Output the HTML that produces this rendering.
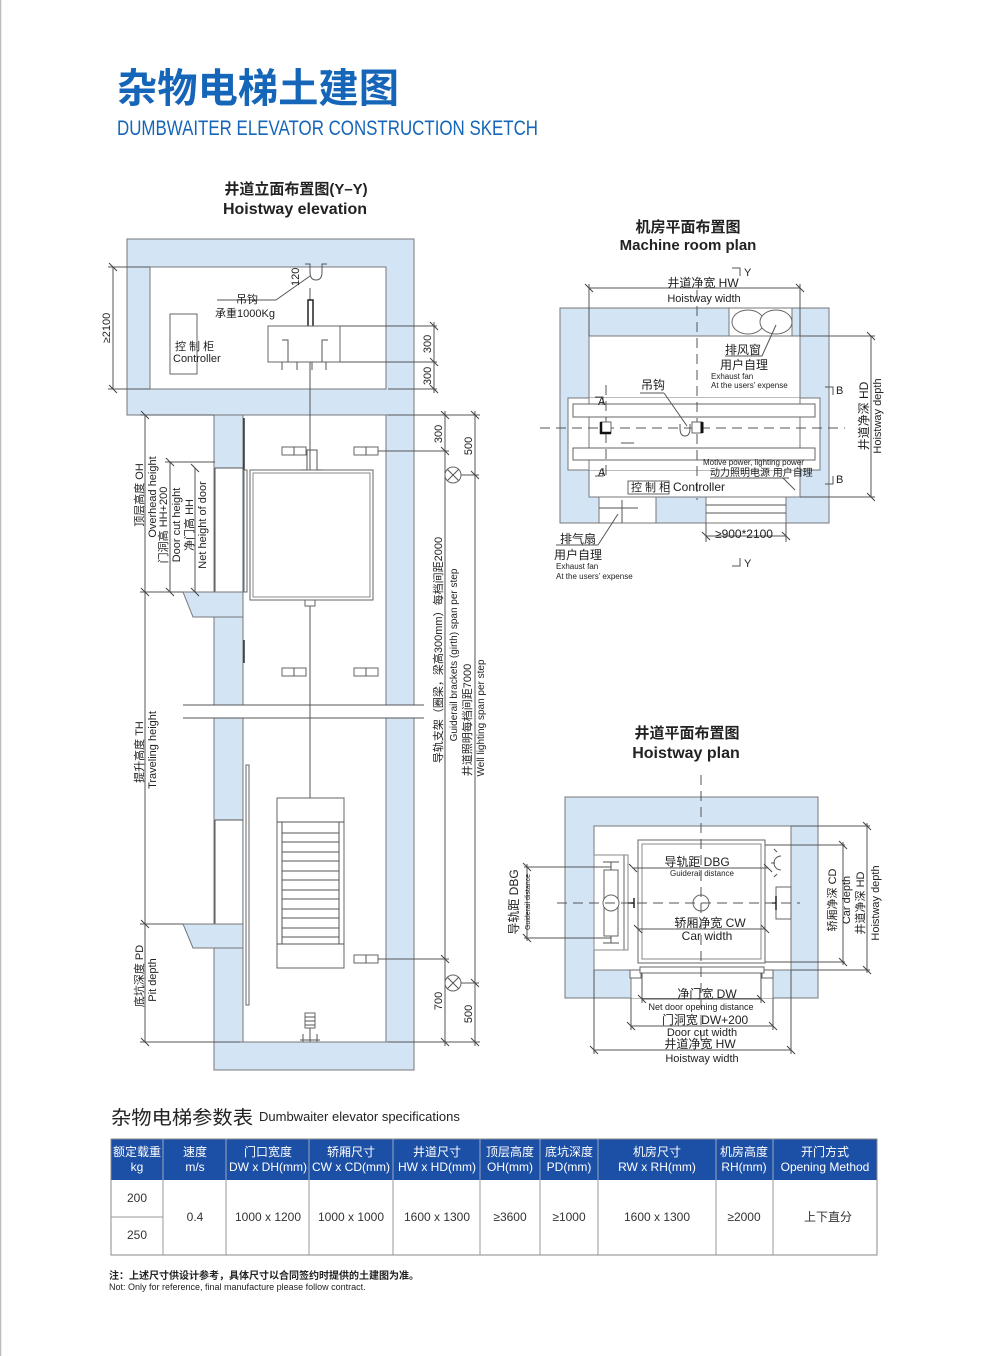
<!DOCTYPE html>
<html><head><meta charset="utf-8"><style>
html,body{margin:0;padding:0;background:#fff;}
svg{display:block;}
text{font-family:"Liberation Sans","Noto Sans CJK SC",sans-serif;fill:#222;}
.b{fill:#d3e4f5;stroke:#777;stroke-width:1;}
.l{stroke:#555;stroke-width:1;fill:none;}
.t{stroke:#444;stroke-width:1;}
.w{fill:#fff;stroke:#666;stroke-width:1;}
.d{stroke:#555;stroke-width:1;stroke-dasharray:10 6;fill:none;}
.th{fill:#fff;font-size:12px;}
.td{font-size:12px;fill:#333;}
</style></head><body>
<svg width="1000" height="1356" viewBox="0 0 1000 1356" xmlns="http://www.w3.org/2000/svg">
<rect x="0" y="0" width="1000" height="1356" fill="#fff"/>
<line x1="0.5" y1="0" x2="0.5" y2="1356" stroke="#bbb" stroke-width="1.5"/>

<text x="117" y="102" font-size="40" font-weight="bold" style="fill:#1565b8" textLength="282" lengthAdjust="spacingAndGlyphs">杂物电梯土建图</text>
<text x="117" y="135" font-size="21" style="fill:#1565b8" textLength="421" lengthAdjust="spacingAndGlyphs">DUMBWAITER ELEVATOR CONSTRUCTION SKETCH</text>

<text x="296" y="194" font-size="15" font-weight="bold" text-anchor="middle">井道立面布置图(Y–Y)</text>
<text x="295" y="214" font-size="16" font-weight="bold" text-anchor="middle">Hoistway elevation</text>

<rect x="127" y="239" width="287" height="176" class="b"/>
<rect x="150" y="267" width="236" height="122" fill="#fff" stroke="#777"/>
<rect x="214" y="415" width="29" height="655" class="b"/>
<rect x="386" y="415" width="28" height="655" class="b"/>
<rect x="214" y="1042" width="200" height="28" class="b"/>
<rect x="243" y="415" width="143" height="627" fill="#fff" stroke="#777"/>
<rect x="215" y="468" width="27" height="124" fill="#fff"/>
<line x1="215" y1="468" x2="243" y2="468" class="l"/>
<line x1="215" y1="468" x2="215" y2="592" class="l"/>
<rect x="215" y="820" width="27" height="104" fill="#fff"/>
<line x1="215" y1="820" x2="243" y2="820" class="l"/>
<line x1="215" y1="820" x2="215" y2="924" class="l"/>
<polygon points="183,592 243,592 243,617 215,617 193,617" class="b"/>
<polygon points="183,924 243,924 243,948 215,948 193,948" class="b"/>
<rect x="183" y="705" width="242" height="13" fill="#fff"/>
<line x1="183" y1="705" x2="424" y2="705" class="l"/>
<line x1="183" y1="718" x2="424" y2="718" class="l"/>
<line x1="244" y1="418" x2="244" y2="470" stroke="#333" stroke-width="1.5"/>
<rect x="244" y="470" width="3" height="122" class="w"/>
<line x1="244" y1="640" x2="244" y2="663" stroke="#333" stroke-width="1.5"/>
<rect x="246" y="765" width="3" height="240" class="w"/>
<line x1="310" y1="288" x2="310" y2="798" class="l"/>
<rect x="308" y="300" width="5" height="39" fill="#fff" stroke="#222" stroke-width="1.5"/>
<rect x="268" y="326" width="72" height="36" class="w"/>
<path d="M282 340 h6 v22 M328 340 h-6 v22" class="l" stroke-width="2"/>
<path d="M282 362 v8 M297 362 v8 M312 362 v8 M326 362 v8" class="l"/>
<path d="M305 264 h5 v8 q0 8 6 8 q6 0 6 -8 v-8 h5" class="l" stroke-width="1.5"/>
<line x1="217" y1="300" x2="276" y2="300" class="l"/>
<line x1="276" y1="300" x2="310" y2="276" class="l"/>
<text x="283" y="282" font-size="11" transform="rotate(-90 293 276)">120</text>
<text x="247" y="303" font-size="11" text-anchor="middle">吊钩</text>
<text x="245" y="317" font-size="11" text-anchor="middle">承重1000Kg</text>
<rect x="170" y="314" width="27" height="60" class="w"/>
<text x="175" y="350" font-size="11">控 制 柜</text>
<text x="173" y="362" font-size="11">Controller</text>
<line x1="113" y1="267" x2="113" y2="389" class="l"/>
<line x1="108" y1="267" x2="150" y2="267" class="l"/>
<line x1="108" y1="389" x2="150" y2="389" class="l"/>
<path d="M109 263 l8 8 M109 385 l8 8" class="t"/>
<text font-size="11" text-anchor="middle" transform="translate(110 328) rotate(-90)">≥2100</text>
<line x1="340" y1="326" x2="437" y2="326" class="l"/>
<line x1="340" y1="362" x2="437" y2="362" class="l"/>
<line x1="388" y1="389" x2="437" y2="389" class="l"/>
<line x1="434" y1="322" x2="434" y2="393" class="l"/>
<path d="M430 322 l8 8 M430 358 l8 8 M430 385 l8 8" class="t"/>
<text font-size="11" text-anchor="middle" transform="translate(431 344) rotate(-90)">300</text>
<text font-size="11" text-anchor="middle" transform="translate(431 376) rotate(-90)">300</text>
<rect x="250" y="470" width="123" height="130" class="w"/>
<rect x="253" y="473" width="117" height="124" fill="none" stroke="#888"/>
<path d="M301 470 h6 v-20 h10 v20 h6" class="l"/>
<rect x="305" y="600" width="10" height="6" class="w"/>
<g class="w">
<rect x="282" y="447" width="24" height="8"/><rect x="354" y="447" width="24" height="8"/>
<rect x="282" y="668" width="24" height="8"/><rect x="354" y="668" width="24" height="8"/>
<rect x="282" y="955" width="24" height="8"/><rect x="354" y="955" width="24" height="8"/>
</g>
<path d="M294 447 v8 M366 447 v8 M294 668 v8 M366 668 v8 M294 955 v8 M366 955 v8" class="l"/>
<rect x="277" y="798" width="67" height="170" class="w"/>
<line x1="277" y1="822" x2="344" y2="822" class="l"/>
<line x1="277" y1="944" x2="344" y2="944" class="l"/>
<line x1="282" y1="822" x2="282" y2="944" class="l"/>
<line x1="339" y1="822" x2="339" y2="944" class="l"/>
<g class="l">
<path d="M282 833 h57 M282 842 h57 M282 852 h57 M282 861 h57 M282 871 h57 M282 880 h57 M282 890 h57 M282 899 h57 M282 909 h57 M282 918 h57 M282 928 h57 M282 937 h57"/>
</g>
<rect x="305" y="1013" width="10" height="15" class="w"/>
<path d="M305 1017 h10 M305 1021 h10 M305 1025 h10 M300 1040 h20 M310 1028 v14 M303 1034 v8 M317 1034 v8" class="l"/>
<line x1="145" y1="415" x2="145" y2="1042" class="l"/>
<line x1="140" y1="415" x2="214" y2="415" class="l"/>
<line x1="140" y1="592" x2="183" y2="592" class="l"/>
<line x1="140" y1="924" x2="183" y2="924" class="l"/>
<line x1="140" y1="1042" x2="240" y2="1042" class="l"/>
<line x1="170" y1="462" x2="170" y2="592" class="l"/>
<line x1="165" y1="462" x2="215" y2="462" class="l"/>
<line x1="195" y1="468" x2="195" y2="592" class="l"/>
<path d="M141 411 l8 8 M141 588 l8 8 M141 920 l8 8 M141 1038 l8 8 M166 458 l8 8 M166 588 l8 8 M191 464 l8 8 M191 588 l8 8" class="t"/>
<g font-size="11" text-anchor="middle">
<text transform="translate(143 495) rotate(-90)">顶层高度 OH</text>
<text transform="translate(156 497) rotate(-90)">Overhead height</text>
<text transform="translate(167 525) rotate(-90)">门洞高 HH+200</text>
<text transform="translate(180 525) rotate(-90)">Door cut height</text>
<text transform="translate(193 525) rotate(-90)">净门高 HH</text>
<text transform="translate(206 525) rotate(-90)">Net height of door</text>
<text transform="translate(143 752) rotate(-90)">提升高度 TH</text>
<text transform="translate(156 750) rotate(-90)">Traveling height</text>
<text transform="translate(143 976) rotate(-90)">底坑深度 PD</text>
<text transform="translate(156 980) rotate(-90)">Pit depth</text>
</g>
<line x1="445" y1="411" x2="445" y2="1046" class="l"/>
<line x1="475" y1="411" x2="475" y2="1046" class="l"/>
<line x1="388" y1="415" x2="480" y2="415" class="l"/>
<line x1="378" y1="451" x2="449" y2="451" class="l"/>
<line x1="378" y1="959" x2="449" y2="959" class="l"/>
<line x1="388" y1="1042" x2="480" y2="1042" class="l"/>
<line x1="461" y1="475" x2="479" y2="475" class="l"/>
<line x1="461" y1="983" x2="479" y2="983" class="l"/>
<path d="M441 411 l8 8 M441 447 l8 8 M441 955 l8 8 M441 1038 l8 8 M471 411 l8 8 M471 471 l8 8 M471 979 l8 8 M471 1038 l8 8" class="t"/>
<circle cx="453" cy="475" r="8" class="w"/><path d="M447 469 l12 12 M459 469 l-12 12" class="l"/>
<circle cx="453" cy="983" r="8" class="w"/><path d="M447 977 l12 12 M459 977 l-12 12" class="l"/>
<g font-size="11" text-anchor="middle">
<text transform="translate(442 434) rotate(-90)">300</text>
<text transform="translate(472 446) rotate(-90)">500</text>
<text transform="translate(442 1001) rotate(-90)">700</text>
<text transform="translate(472 1014) rotate(-90)">500</text>
<text transform="translate(442 650) rotate(-90)">导轨支架（圈梁，梁高300mm）每档间距2000</text>
<text font-size="10" transform="translate(457 655) rotate(-90)">Guiderail brackets (girth) span per step</text>
<text transform="translate(471 720) rotate(-90)">井道照明每档间距7000</text>
<text font-size="10" transform="translate(484 718) rotate(-90)">Well lighting span per step</text>
</g>

<text x="688" y="232" font-size="15" font-weight="bold" text-anchor="middle">机房平面布置图</text>
<text x="688" y="250" font-size="15" font-weight="bold" text-anchor="middle">Machine room plan</text>
<rect x="560" y="308" width="269" height="215" class="b"/>
<rect x="589" y="336" width="211" height="161" fill="#fff" stroke="#777"/>
<rect x="729" y="308" width="63" height="28" fill="#fff" stroke="#777"/>
<ellipse cx="748" cy="322" rx="16" ry="12" class="w"/>
<ellipse cx="776" cy="322" rx="16" ry="12" class="w"/>
<rect x="599" y="497" width="57" height="26" fill="#fff" stroke="#777"/>
<line x1="599" y1="508" x2="638" y2="508" class="l"/><line x1="622" y1="500" x2="622" y2="523" class="l"/>
<rect x="706" y="497" width="80" height="26" fill="#fff" stroke="#777"/>
<line x1="706" y1="505" x2="786" y2="505" class="l"/><line x1="706" y1="513" x2="786" y2="513" class="l"/>
<rect x="568" y="398" width="252" height="72" fill="#fff" stroke="#777"/>
<rect x="589" y="398" width="211" height="72" fill="#fff"/>
<line x1="589" y1="398" x2="589" y2="470" stroke="#777"/>
<line x1="800" y1="398" x2="800" y2="470" stroke="#777"/>
<rect x="573" y="404" width="242" height="13" class="w"/>
<rect x="573" y="448" width="242" height="12" class="w"/>
<line x1="540" y1="428" x2="845" y2="428" class="d"/>
<line x1="697" y1="290" x2="697" y2="500" class="d"/>
<line x1="606" y1="385" x2="606" y2="480" class="d"/>
<rect x="601" y="422" width="10" height="11" class="w"/><path d="M601 422 v11 h10" stroke="#111" stroke-width="2.5" fill="none"/>
<path d="M680 424 v4 q0 8 5 8 q5 0 5 -8 v-4" class="l" stroke-width="1.5"/>
<rect x="692" y="422" width="10" height="11" class="w"/><path d="M702 422 v11" stroke="#111" stroke-width="3"/>
<line x1="621" y1="443" x2="634" y2="443" class="l"/>
<line x1="640" y1="393" x2="664" y2="393" class="l"/><line x1="664" y1="393" x2="687" y2="426" class="l"/>
<text x="641" y="389" font-size="12">吊钩</text>
<path d="M595 397 h8 v8" class="l"/><text x="598" y="405" font-size="11">A</text>
<path d="M595 476 h8 v-8" class="l"/><text x="598" y="476" font-size="11">A</text>
<path d="M825 387 h8 v8" class="l"/><text x="836" y="394" font-size="11">B</text>
<path d="M825 484 h8 v-8" class="l"/><text x="836" y="483" font-size="11">B</text>
<path d="M732 268 h8 v8" class="l"/><text x="744" y="276" font-size="11">Y</text>
<path d="M732 566 h8 v-8" class="l"/><text x="744" y="567" font-size="11">Y</text>
<line x1="589" y1="288" x2="800" y2="288" class="l"/>
<line x1="589" y1="284" x2="589" y2="336" class="l"/>
<line x1="800" y1="284" x2="800" y2="336" class="l"/>
<path d="M585 284 l8 8 M796 284 l8 8" class="t"/>
<text x="703" y="287" font-size="12" text-anchor="middle">井道净宽 HW</text>
<text x="704" y="302" font-size="11" text-anchor="middle">Hoistway width</text>
<line x1="871" y1="336" x2="871" y2="497" class="l"/>
<line x1="800" y1="336" x2="875" y2="336" class="l"/>
<line x1="800" y1="497" x2="875" y2="497" class="l"/>
<path d="M867 332 l8 8 M867 493 l8 8" class="t"/>
<text font-size="12" text-anchor="middle" transform="translate(868 416) rotate(-90)">井道净深 HD</text>
<text font-size="11" text-anchor="middle" transform="translate(881 416) rotate(-90)">Hoistway depth</text>
<line x1="725" y1="356" x2="762" y2="356" class="l"/><line x1="762" y1="356" x2="776" y2="325" class="l"/>
<text x="725" y="354" font-size="12">排风窗</text>
<text x="720" y="369" font-size="12">用户自理</text>
<text x="711" y="379" font-size="8">Exhaust fan</text>
<text x="711" y="388" font-size="8">At the users’   expense</text>
<text x="703" y="465" font-size="8">Motive power, lighting power</text>
<text x="710" y="476" font-size="10">动力照明电源 用户自理</text>
<line x1="710" y1="478" x2="789" y2="478" class="l"/><line x1="783" y1="478" x2="795" y2="490" class="l"/>
<rect x="628" y="481" width="41" height="13" class="w"/>
<text x="631" y="491" font-size="11">控 制 柜</text>
<text x="673" y="491" font-size="12">Controller</text>
<line x1="706" y1="536" x2="786" y2="536" class="l"/>
<line x1="706" y1="523" x2="706" y2="542" class="l"/><line x1="786" y1="523" x2="786" y2="542" class="l"/>
<path d="M702 532 l8 8 M782 532 l8 8" class="t"/>
<text x="715" y="538" font-size="12">≥900*2100</text>
<line x1="556" y1="545" x2="598" y2="545" class="l"/><line x1="598" y1="545" x2="618" y2="514" class="l"/>
<text x="560" y="543" font-size="12">排气扇</text>
<text x="554" y="559" font-size="12">用户自理</text>
<text x="556" y="569" font-size="8">Exhaust fan</text>
<text x="556" y="579" font-size="8">At the users’   expense</text>

<text x="687" y="738" font-size="15" font-weight="bold" text-anchor="middle">井道平面布置图</text>
<text x="686" y="758" font-size="16" font-weight="bold" text-anchor="middle">Hoistway plan</text>
<rect x="565" y="797" width="253" height="201" class="b"/>
<rect x="594" y="826" width="197" height="144" fill="#fff" stroke="#777"/>
<rect x="631" y="970" width="142" height="28" fill="#fff"/>
<line x1="631" y1="970" x2="631" y2="998" stroke="#777"/><line x1="773" y1="970" x2="773" y2="998" stroke="#777"/>
<rect x="630" y="970" width="11" height="8" class="w"/><rect x="762" y="970" width="11" height="8" class="w"/>
<rect x="640" y="967" width="124" height="6" class="w"/>
<rect x="638" y="840" width="127" height="123" class="w"/>
<rect x="642" y="844" width="119" height="115" fill="none" stroke="#888"/>
<rect x="594" y="855" width="30" height="95" class="w"/>
<rect x="594" y="855" width="34" height="95" fill="none" stroke="#888"/>
<rect x="604" y="870" width="14" height="66" class="w"/>
<path d="M603 862 h16 M611 862 v8 M603 943 h16 M611 936 v7" class="l" stroke-width="1.5"/>
<circle cx="611" cy="903" r="8" class="w"/>
<path d="M628 903 h6 M634 898 v10" stroke="#222" stroke-width="1.5"/>
<rect x="776" y="887" width="15" height="32" class="w"/><path d="M772 903 h4 M776 896 v14" stroke="#222" stroke-width="1.5"/>
<path d="M781 856 a7 7 0 0 0 0 14 M777 852 l-3 -3 M775 863 h-4 M777 874 l-3 3" class="l"/>
<circle cx="701" cy="903" r="8" class="w"/>
<line x1="557" y1="903" x2="800" y2="903" class="d"/>
<line x1="701" y1="775" x2="701" y2="1040" class="d"/>
<line x1="633" y1="868" x2="768" y2="868" class="l"/>
<path d="M629 864 l8 8 M764 864 l8 8" class="t"/>
<text x="697" y="866" font-size="12" text-anchor="middle">导轨距 DBG</text>
<text x="702" y="876" font-size="8" text-anchor="middle">Guiderail distance</text>
<line x1="638" y1="929" x2="765" y2="929" class="l"/>
<path d="M634 925 l8 8 M761 925 l8 8" class="t"/>
<text x="710" y="927" font-size="12" text-anchor="middle">轿厢净宽 CW</text>
<text x="707" y="940" font-size="12" text-anchor="middle">Car width</text>
<line x1="524" y1="867" x2="611" y2="867" class="l"/>
<line x1="524" y1="938" x2="611" y2="938" class="l"/>
<line x1="527" y1="864" x2="527" y2="941" class="l"/>
<path d="M523 863 l8 8 M523 934 l8 8" class="t"/>
<text font-size="12" text-anchor="middle" transform="translate(518 902) rotate(-90)">导轨距 DBG</text>
<text font-size="7" text-anchor="middle" transform="translate(530 902) rotate(-90)">Guiderail distance</text>
<line x1="765" y1="845" x2="845" y2="845" class="l"/>
<line x1="765" y1="962" x2="845" y2="962" class="l"/>
<line x1="843" y1="842" x2="843" y2="965" class="l"/>
<path d="M839 841 l8 8 M839 958 l8 8" class="t"/>
<line x1="791" y1="826" x2="870" y2="826" class="l"/>
<line x1="791" y1="970" x2="870" y2="970" class="l"/>
<line x1="867" y1="823" x2="867" y2="973" class="l"/>
<path d="M863 822 l8 8 M863 966 l8 8" class="t"/>
<g font-size="11" text-anchor="middle">
<text transform="translate(836 900) rotate(-90)">轿厢净深 CD</text>
<text transform="translate(850 900) rotate(-90)">Car depth</text>
<text transform="translate(864 903) rotate(-90)">井道净深 HD</text>
<text transform="translate(879 903) rotate(-90)">Hoistway depth</text>
</g>
<line x1="642" y1="973" x2="642" y2="1003" class="l"/><line x1="761" y1="973" x2="761" y2="1003" class="l"/>
<line x1="642" y1="999" x2="761" y2="999" class="l"/>
<path d="M638 995 l8 8 M757 995 l8 8" class="t"/>
<text x="707" y="998" font-size="12" text-anchor="middle">净门宽 DW</text>
<text x="701" y="1010" font-size="9" text-anchor="middle">Net door opening distance</text>
<line x1="631" y1="998" x2="631" y2="1030" class="l"/><line x1="773" y1="998" x2="773" y2="1030" class="l"/>
<line x1="631" y1="1026" x2="773" y2="1026" class="l"/>
<path d="M627 1022 l8 8 M769 1022 l8 8" class="t"/>
<text x="705" y="1024" font-size="12" text-anchor="middle">门洞宽 DW+200</text>
<text x="702" y="1036" font-size="11" text-anchor="middle">Door cut width</text>
<line x1="594" y1="970" x2="594" y2="1054" class="l"/><line x1="791" y1="970" x2="791" y2="1054" class="l"/>
<line x1="594" y1="1050" x2="791" y2="1050" class="l"/>
<path d="M590 1046 l8 8 M787 1046 l8 8" class="t"/>
<text x="700" y="1048" font-size="12" text-anchor="middle">井道净宽 HW</text>
<text x="702" y="1062" font-size="11" text-anchor="middle">Hoistway width</text>

<text x="111" y="1124" font-size="19" textLength="142" lengthAdjust="spacingAndGlyphs">杂物电梯参数表</text>
<text x="259" y="1121" font-size="13">Dumbwaiter elevator specifications</text>
<rect x="111" y="1139" width="766" height="41" fill="#1c4fa6"/>
<rect x="111" y="1139" width="766" height="116" fill="none" stroke="#888"/>
<g stroke="#9ab" stroke-width="1">
<path d="M163 1139 v41 M226 1139 v41 M309 1139 v41 M393 1139 v41 M480 1139 v41 M540 1139 v41 M598 1139 v41 M716 1139 v41 M773 1139 v41"/>
</g>
<g stroke="#999" stroke-width="1">
<path d="M163 1180 v75 M226 1180 v75 M309 1180 v75 M393 1180 v75 M480 1180 v75 M540 1180 v75 M598 1180 v75 M716 1180 v75 M773 1180 v75 M111 1217 h52"/>
</g>
<g text-anchor="middle">
<text x="137" y="1156" class="th">额定载重</text><text x="137" y="1171" class="th">kg</text>
<text x="195" y="1156" class="th">速度</text><text x="195" y="1171" class="th">m/s</text>
<text x="268" y="1156" class="th">门口宽度</text><text x="268" y="1171" class="th">DW x DH(mm)</text>
<text x="351" y="1156" class="th">轿厢尺寸</text><text x="351" y="1171" class="th">CW x CD(mm)</text>
<text x="437" y="1156" class="th">井道尺寸</text><text x="437" y="1171" class="th">HW x HD(mm)</text>
<text x="510" y="1156" class="th">顶层高度</text><text x="510" y="1171" class="th">OH(mm)</text>
<text x="569" y="1156" class="th">底坑深度</text><text x="569" y="1171" class="th">PD(mm)</text>
<text x="657" y="1156" class="th">机房尺寸</text><text x="657" y="1171" class="th">RW x RH(mm)</text>
<text x="744" y="1156" class="th">机房高度</text><text x="744" y="1171" class="th">RH(mm)</text>
<text x="825" y="1156" class="th">开门方式</text><text x="825" y="1171" class="th">Opening Method</text>
</g>
<g text-anchor="middle">
<text x="137" y="1202" class="td">200</text>
<text x="137" y="1239" class="td">250</text>
<text x="195" y="1221" class="td">0.4</text>
<text x="268" y="1221" class="td">1000 x 1200</text>
<text x="351" y="1221" class="td">1000 x 1000</text>
<text x="437" y="1221" class="td">1600 x 1300</text>
<text x="510" y="1221" class="td">≥3600</text>
<text x="569" y="1221" class="td">≥1000</text>
<text x="657" y="1221" class="td">1600 x 1300</text>
<text x="744" y="1221" class="td">≥2000</text>
<text x="828" y="1221" class="td">上下直分</text>
</g>
<text x="109" y="1279" font-size="10" font-weight="bold">注：上述尺寸供设计参考，具体尺寸以合同签约时提供的土建图为准。</text>
<text x="109" y="1290" font-size="9">Not: Only for reference, final manufacture please follow contract.</text>
</svg>
</body></html>
